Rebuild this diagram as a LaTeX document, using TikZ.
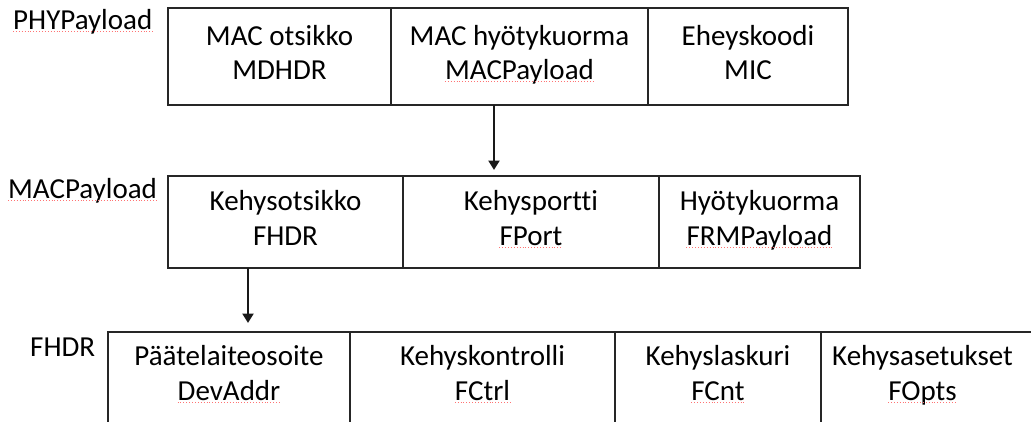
\documentclass[tikz,border=0pt]{standalone}
\usepackage{fontspec}
\setmainfont{Carlito}[Ligatures={NoCommon}]
\usetikzlibrary{arrows.meta}

\tikzset{
  cell/.style={draw=black!85, line width=1.6pt, rectangle, inner sep=0pt,
               outer sep=0pt, anchor=north west},
  txt/.style={inner sep=0pt, anchor=base, font=\fontsize{29}{34}\selectfont, text=black},
  lbl/.style={inner sep=0pt, anchor=base west, font=\fontsize{29}{34}\selectfont, text=black},
  arr/.style={line width=2.6pt, black!90, -{Triangle[length=9.5pt,width=11pt]}},
  spell/.style={red!55, line width=0.9pt, dotted}
}
\newcommand{\spellmark}[1]{\draw[spell] ([yshift=-2.5pt]#1.base west) -- ([yshift=-2.5pt]#1.base east);}

\begin{document}
\begin{tikzpicture}[x=1pt,y=1pt]
  \useasboundingbox (0,0) rectangle (1031,-421);
  \clip (0,0) rectangle (1031,-421);

  % PHYPayload row
  \node[lbl] (lphy) at (13,-29) {PHYPayload};
  \node[cell, minimum width=223pt, minimum height=97pt] (p1) at (168,-8) {};
  \node[cell, minimum width=257pt, minimum height=97pt] (p2) at (391,-8) {};
  \node[cell, minimum width=200pt, minimum height=97pt] (p3) at (648,-8) {};
  \node[txt] (p1a) at ([yshift=-37pt]p1.north) {MAC otsikko};
  \node[txt] (p1b) at ([yshift=-71pt]p1.north) {MDHDR};
  \node[txt] (p2a) at ([yshift=-37pt]p2.north) {MAC hyötykuorma};
  \node[txt] (p2b) at ([yshift=-71pt]p2.north) {MACPayload};
  \node[txt] (p3a) at ([yshift=-37pt]p3.north) {Eheyskoodi};
  \node[txt] (p3b) at ([yshift=-71pt]p3.north) {MIC};

  % MACPayload row
  \node[lbl] (lmac) at (8,-198) {MACPayload};
  \node[cell, minimum width=235pt, minimum height=92pt] (m1) at (168,-176) {};
  \node[cell, minimum width=256pt, minimum height=92pt] (m2) at (403,-176) {};
  \node[cell, minimum width=201pt, minimum height=92pt] (m3) at (659,-176) {};
  \node[txt] (m1a) at ([yshift=-34pt]m1.north) {Kehysotsikko};
  \node[txt] (m1b) at ([yshift=-69pt]m1.north) {FHDR};
  \node[txt] (m2a) at ([yshift=-34pt]m2.north) {Kehysportti};
  \node[txt] (m2b) at ([yshift=-69pt]m2.north) {FPort};
  \node[txt] (m3a) at ([yshift=-34pt]m3.north) {Hyötykuorma};
  \node[txt] (m3b) at ([yshift=-69pt]m3.north) {FRMPayload};

  % FHDR row (runs past the lower and right edges)
  \node[lbl] (lfhdr) at (30,-356) {FHDR};
  \node[cell, minimum width=242pt, minimum height=120pt] (f1) at (108,-332) {};
  \node[cell, minimum width=265pt, minimum height=120pt] (f2) at (350,-332) {};
  \node[cell, minimum width=206pt, minimum height=120pt] (f3) at (615,-332) {};
  \node[cell, minimum width=240pt, minimum height=120pt] (f4) at (821,-332) {};
  \node[txt] (f1a) at ([yshift=-33pt]f1.north) {Päätelaiteosoite};
  \node[txt] (f1b) at ([yshift=-68pt]f1.north) {DevAddr};
  \node[txt] (f2a) at ([yshift=-33pt]f2.north) {Kehyskontrolli};
  \node[txt] (f2b) at ([yshift=-68pt]f2.north) {FCtrl};
  \node[txt] (f3a) at ([yshift=-33pt]f3.north) {Kehyslaskuri};
  \node[txt] (f3b) at ([yshift=-68pt]f3.north) {FCnt};
  \node[txt] (f4a) at ([xshift=-18.5pt,yshift=-33pt]f4.north) {Kehysasetukset};
  \node[txt] (f4b) at ([xshift=-18.5pt,yshift=-68pt]f4.north) {FOpts};

  % connectors
  \coordinate (a1) at ([xshift=-25.5pt]p2.south);
  \draw[arr] (a1) -- ([yshift=6pt]a1 |- m2.north);
  \coordinate (a2) at ([xshift=-37.5pt]m1.south);
  \draw[arr] (a2) -- ([yshift=9pt]a2 |- f1.north);

  % proofing marks under the unrecognised words
  \spellmark{lphy}
  \spellmark{p2b}
  \spellmark{lmac}
  \spellmark{m2b}
  \spellmark{m3b}
  \spellmark{f1b}
  \spellmark{f2b}
  \spellmark{f3b}
  \spellmark{f4b}
\end{tikzpicture}
\end{document}
